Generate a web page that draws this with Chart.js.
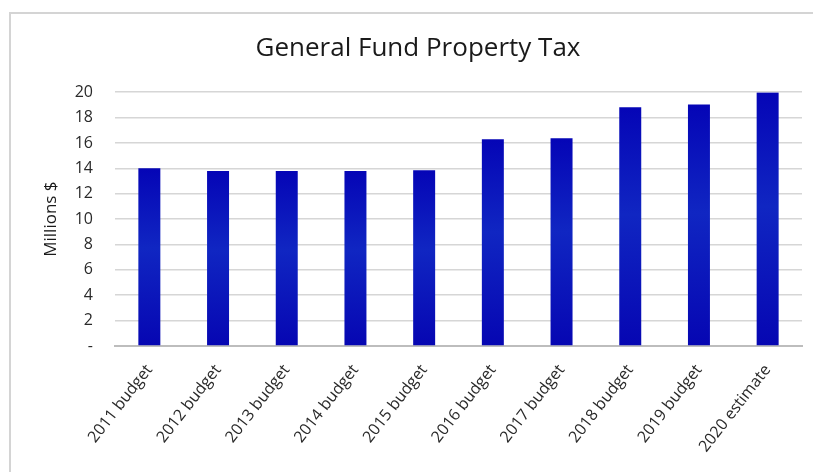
<!DOCTYPE html>
<html lang="en">
<head>
    <meta charset="UTF-8">
    <title>General Fund Property Tax</title>
    <script src="https://cdn.jsdelivr.net/npm/chart.js"></script>
    <style>
        body {
            margin: 0;
            background: #fff;
            font-family: "Open Sans", sans-serif;
        }
        #frame {
            position: absolute;
            left: 9px;
            top: 12px;
            width: 820px;
            height: 480px;
            border-top: 2px solid #d4d4d4;
            border-left: 2px solid #d4d4d4;
        }
        .chart-box {
            position: absolute;
            left: 0;
            top: 0;
            width: 813px;
            height: 472px;
        }
    </style>
</head>
<body>
    <div id="frame"></div>
    <div class="chart-box">
        <canvas id="taxChart" width="813" height="472"></canvas>
    </div>

    <script>
        const years = ['2011 budget', '2012 budget', '2013 budget', '2014 budget', '2015 budget',
                       '2016 budget', '2017 budget', '2018 budget', '2019 budget', '2020 estimate'];
        const propertyTax = [14.0, 13.8, 13.8, 13.8, 13.85, 16.3, 16.38, 18.82, 19.03, 19.98];
        const yTicks = [0, 2, 4, 6, 8, 10, 12, 14, 16, 18, 20];

        // darker at the ends of each bar, slightly lighter through the middle
        function barFill(ctx) {
            const chart = ctx.chart;
            if (!chart.chartArea || ctx.parsed === undefined) return '#0a0ac0';
            const y = chart.scales.y;
            const top = y.getPixelForValue(ctx.parsed.y);
            const base = y.getPixelForValue(0);
            const g = chart.ctx.createLinearGradient(0, top, 0, base);
            g.addColorStop(0, '#0505b6');
            g.addColorStop(0.45, '#1026c2');
            g.addColorStop(1, '#0606b2');
            return g;
        }

        new Chart(document.getElementById('taxChart'), {
            type: 'bar',
            data: {
                labels: years,
                datasets: [{
                    data: propertyTax,
                    backgroundColor: barFill,
                    barPercentage: 0.8,
                    categoryPercentage: 0.4
                }]
            },
            options: {
                responsive: false,
                animation: false,
                layout: { padding: { left: 34, right: 11, top: 0, bottom: 0 } },
                plugins: {
                    legend: { display: false },
                    tooltip: { enabled: false },
                    title: {
                        display: true,
                        text: 'General Fund Property Tax',
                        color: '#1a1a1a',
                        font: { family: 'Open Sans', size: 26, weight: 'normal' },
                        padding: { top: 33, bottom: 28 }
                    }
                },
                scales: {
                    x: {
                        grid: { display: false },
                        border: { display: true, color: '#bdbdbd', width: 2 },
                        ticks: {
                            color: '#2a2a2a',
                            font: { family: 'Open Sans', size: 16 },
                            minRotation: 52,
                            maxRotation: 52,
                            padding: 7
                        },
                        afterFit: (scale) => { scale.height = 126; }
                    },
                    y: {
                        min: 0,
                        max: 20,
                        afterBuildTicks: (scale) => {
                            scale.ticks = yTicks.map(v => ({ value: v }));
                        },
                        afterFit: (scale) => { scale.width = 81; },
                        border: { display: false },
                        grid: {
                            drawTicks: false,
                            color: (c) => c.tick && c.tick.value === 0 ? '#bdbdbd' : '#d6d6d6',
                            lineWidth: 1.5
                        },
                        ticks: {
                            color: '#2a2a2a',
                            font: { family: 'Open Sans', size: 16 },
                            padding: 22,
                            callback: (v) => v === 0 ? '-' : v
                        },
                        title: {
                            display: true,
                            text: 'Millions $',
                            color: '#1a1a1a',
                            font: { family: 'Open Sans', size: 17 },
                            padding: { top: 7, bottom: 0 }
                        }
                    }
                }
            }
        });
    </script>
</body>
</html>
